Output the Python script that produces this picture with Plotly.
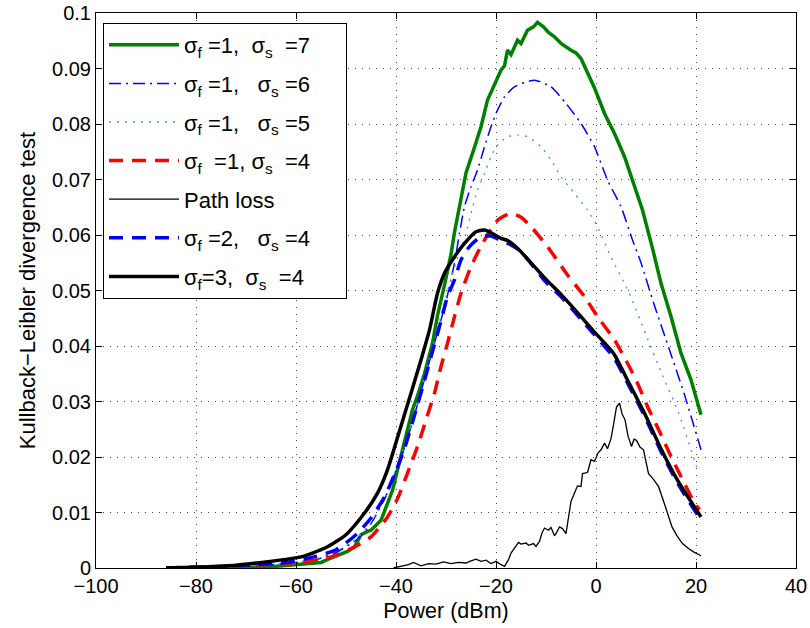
import plotly.graph_objects as go

# ---- data ----
x_s7 = [-86, -70, -64, -60, -57, -55, -53, -51, -49.7, -48.3, -47, -45.7, -45, -43, -41.7, -40.7, -39.7,
        -38.7, -37.7, -36.7, -35.7, -34.3, -32.7, -31.7, -30.3, -29, -28.3, -27.7, -27, -26, -24.3, -23,
        -21.7, -20.3, -19, -18.3, -17.7, -17, -15.7, -15, -13.7, -12.5, -11.7, -10.5, -9.5, -8.3, -7,
        -5, -4, -3, -1.5, -0.3, 1.7, 3.7, 5.7, 7.7, 9.3, 11.3, 13, 15, 17, 19, 20, 21]
y_s7 = [0, 0, 0.0003, 0.0006, 0.0008, 0.001, 0.0018, 0.0026, 0.003, 0.0038, 0.006, 0.0066, 0.0068,
        0.0086, 0.0115, 0.014, 0.0177, 0.0215, 0.0252, 0.0285, 0.031, 0.035, 0.0405, 0.0455, 0.051,
        0.0565, 0.0605, 0.0635, 0.0665, 0.0712, 0.0758, 0.0795, 0.0843, 0.0873, 0.0897, 0.0905, 0.0933,
        0.0925, 0.0951, 0.0945, 0.0969, 0.0975, 0.0983, 0.0975, 0.0965, 0.0957, 0.0945, 0.0933,
        0.0928, 0.0918, 0.089, 0.0865, 0.0819, 0.0783, 0.0741, 0.0687, 0.0645, 0.0576, 0.0513,
        0.0453, 0.0387, 0.0339, 0.0309, 0.0276]

x_s6 = [-86, -70, -62, -56, -52, -48, -45, -42, -40, -38, -36, -34, -32, -30, -28.3, -27.3, -26.3, -25,
        -23.7, -22.3, -21, -20, -18.3, -16.3, -12.3, -9, -6, -3, -0.3, 2.3, 5, 7.3, 9, 11.5, 14.7,
        17.7, 21]
y_s6 = [0, 0.0003, 0.0008, 0.0015, 0.0028, 0.005, 0.008, 0.013, 0.0175, 0.0225, 0.0285, 0.035,
        0.0415, 0.048, 0.055, 0.0603, 0.0651, 0.0687, 0.0717, 0.0759, 0.0795, 0.0819, 0.0849,
        0.0867, 0.0879, 0.0867, 0.0837, 0.0801, 0.0759, 0.0699, 0.0651, 0.0591, 0.055, 0.0478,
        0.0393, 0.0312, 0.0213]

x_s5 = [-86, -70, -62, -56, -52, -48, -45, -42, -40, -38, -36, -34, -32, -30, -28, -26, -25, -23.7,
        -22.3, -21, -20, -17.7, -15.5, -13.7, -11, -9, -7, -4.3, -1.7, 0.3, 3, 6.5, 10, 13.3,
        16.5, 20.5]
y_s5 = [0, 0.0003, 0.0008, 0.0016, 0.003, 0.0052, 0.0082, 0.0132, 0.0178, 0.0228, 0.0285, 0.0355,
        0.042, 0.049, 0.055, 0.0603, 0.0639, 0.0681, 0.0711, 0.0741, 0.0759, 0.0777, 0.078,
        0.0777, 0.0759, 0.0735, 0.0705, 0.0675, 0.0645, 0.0615, 0.056, 0.0498, 0.042, 0.0347,
        0.028, 0.0172]

x_f1s4 = [-86, -69, -59, -54.3, -51.7, -48.3, -45, -41.7, -39.7, -37.7, -35.7, -34, -32.3, -31,
          -29.7, -28.3, -27, -25, -23, -21, -19.5, -17, -15, -13, -9.7, -5.7, -2.3, 0.3, 3.7, 6.3,
          8.3, 10.3, 12.7, 15, 17, 19.7, 20.7]
y_f1s4 = [0, 0.0004, 0.0011, 0.0017, 0.0024, 0.0038, 0.0056, 0.0092, 0.0125, 0.0171, 0.0219,
          0.0267, 0.0315, 0.0363, 0.0405, 0.0453, 0.0495, 0.0543, 0.058, 0.061, 0.0628, 0.0639,
          0.0632, 0.0615, 0.0579, 0.0528, 0.0489, 0.0453, 0.0411, 0.0369, 0.0333, 0.0291, 0.0246,
          0.0201, 0.0165, 0.0117, 0.0105]

x_path = [-40.5, -39, -37.5, -36.5, -35, -33.5, -32, -30.5, -29, -27.5, -26, -25, -24, -23, -22,
          -21, -20, -19, -18.3, -17.5, -17, -16.3, -15.5, -15, -14, -13.5, -12.5, -12, -11.3,
          -10.8, -10.3, -9.5, -9, -8.3, -8, -7.3, -6.7, -6, -5.5, -5, -4.3, -3.7, -3, -2.7,
          -1.7, -1, -0.3, 0.4, 1, 1.7, 2.3, 3, 3.5, 4.1, 4.7, 5.2, 5.8, 6.4, 7.1, 7.6, 8.1,
          8.8, 9.5, 10.5, 11.3, 12.5, 13.9, 15.2, 16.2, 17.3, 18.5, 19.5, 21]
y_path = [0, 0.0003, 0.0006, 0.001, 0.0004, 0.0008, 0.0007, 0.0011, 0.0008, 0.001, 0.0009, 0.0013,
          0.0016, 0.0012, 0.0014, 0.0008, 0.0012, 0.0006, 0.0003, 0.0015, 0.0027, 0.0036, 0.0046,
          0.0043, 0.0045, 0.0041, 0.0044, 0.0039, 0.0048, 0.0063, 0.0072, 0.0068, 0.0073, 0.0058,
          0.0062, 0.0074, 0.0071, 0.0062, 0.009, 0.012, 0.0135, 0.0148, 0.0147, 0.017, 0.0172,
          0.0195, 0.0192, 0.0207, 0.0213, 0.0225, 0.0215, 0.0233, 0.0258, 0.029, 0.0297, 0.0278,
          0.0267, 0.0238, 0.0219, 0.0232, 0.023, 0.0218, 0.0213, 0.017, 0.0162, 0.0147, 0.011,
          0.0074, 0.0058, 0.0044, 0.0035, 0.0029, 0.0022]

x_f2s4 = [-86, -72, -62, -56, -52, -48, -45, -42.3, -40, -38.3, -36.3, -34.3, -32.7, -31, -29.7,
          -28.3, -27, -25.3, -23, -21, -19, -17, -15, -10, -7, -3, -0.3, 3.5, 6.5, 9.8, 13, 16.5,
          20.5]
y_f2s4 = [0, 0.0004, 0.001, 0.0021, 0.0033, 0.006, 0.009, 0.0128, 0.0175, 0.0215, 0.0275, 0.0338,
          0.039, 0.0445, 0.0489, 0.0519, 0.0555, 0.0579, 0.0597, 0.0598, 0.059, 0.0582, 0.057,
          0.0515, 0.0489, 0.0448, 0.042, 0.038, 0.033, 0.0272, 0.021, 0.015, 0.0093]

x_f3s4 = [-86, -79, -72, -66, -59, -54, -50, -46.3, -43.7, -41.7, -39.7, -37, -35, -33.3, -31.7,
          -30.3, -28.3, -26.3, -24, -22.3, -21, -19, -17.7, -15.7, -10, -7, -3, -0.3, 3.5, 6.5,
          9.8, 13, 16.5, 21]
y_f3s4 = [0, 0.0002, 0.0005, 0.0011, 0.002, 0.0037, 0.006, 0.0099, 0.0135, 0.0177, 0.0235,
          0.0315, 0.0375, 0.0429, 0.0495, 0.0531, 0.0561, 0.0585, 0.0606, 0.0609, 0.0604, 0.0594,
          0.059, 0.0576, 0.052, 0.0493, 0.0453, 0.0425, 0.0387, 0.0335, 0.0277, 0.0215, 0.0155,
          0.0092]

NB = "\u00a0"
names = [
    f"σ<sub>f</sub>{NB}=1,{NB}{NB}σ<sub>s</sub>{NB}{NB}=7" + NB * 5,
    f"σ<sub>f</sub>{NB}=1,{NB}{NB}{NB}σ<sub>s</sub>{NB}=6",
    f"σ<sub>f</sub>{NB}=1,{NB}{NB}{NB}σ<sub>s</sub>{NB}=5",
    f"σ<sub>f</sub>{NB}{NB}=1,{NB}σ<sub>s</sub>{NB}{NB}=4",
    "Path loss",
    f"σ<sub>f</sub>{NB}=2,{NB}{NB}{NB}σ<sub>s</sub>{NB}=4",
    f"σ<sub>f</sub>=3,{NB}{NB}σ<sub>s</sub>{NB}{NB}=4",
]

fig = go.Figure()
specs = [
    (x_s7, y_s7, dict(color="rgb(0,128,0)", width=3.5), "linear"),
    (x_s6, y_s6, dict(color="rgb(0,0,255)", width=1.5, dash="12px,5px,2px,5px"), "spline"),
    (x_s5, y_s5, dict(color="rgb(60,160,225)", width=1.4, dash="2px,6px"), "spline"),
    (x_f1s4, y_f1s4, dict(color="rgb(255,0,0)", width=3.5, dash="14px,9px"), "spline"),
    (x_path, y_path, dict(color="black", width=1.3), "linear"),
    (x_f2s4, y_f2s4, dict(color="rgb(0,0,255)", width=3.5, dash="14px,9px"), "spline"),
    (x_f3s4, y_f3s4, dict(color="black", width=3.5), "spline"),
]
for i, ((xx, yy, ln, shp), nm) in enumerate(zip(specs, names)):
    ln = dict(ln)
    ln["shape"] = shp
    if shp == "spline":
        ln["smoothing"] = 0.6
    fig.add_trace(go.Scatter(x=xx, y=yy, mode="lines", line=ln, name=nm,
                             legendgroup=f"g{i}"))

FONT = "Liberation Sans, Arial, Helvetica, sans-serif"
axis_common = dict(
    showline=True, linecolor="black", linewidth=1, mirror="allticks",
    ticks="inside", ticklen=6, tickcolor="black", tickwidth=1,
    showgrid=True, gridcolor="rgb(70,70,70)", griddash="1px,6px", gridwidth=1,
    zeroline=False, automargin=False, ticklabeloverflow="allow",
    tickfont=dict(size=20, color="black", family=FONT),
)
fig.update_layout(
    width=810, height=628,
    margin=dict(l=96, r=14, t=13, b=60),
    paper_bgcolor="white", plot_bgcolor="white",
    font=dict(family=FONT, color="black", size=20),
    xaxis=dict(range=[-100, 40], dtick=20, tick0=0,
               title=dict(text="Power (dBm)", font=dict(size=21.5), standoff=6), **axis_common),
    yaxis=dict(range=[0, 0.1], dtick=0.01, tick0=0,
               title=dict(text="Kullback\u2212Leibler divergence test", font=dict(size=22), standoff=10),
               **axis_common),
    legend=dict(x=0.01, y=0.982, xanchor="left", yanchor="top",
                bgcolor="white", bordercolor="black", borderwidth=1,
                font=dict(size=22, family=FONT), tracegroupgap=7, itemwidth=70),
    showlegend=True,
)
fig.write_html("out.html", config={"displayModeBar": False},
               post_script="document.body.style.margin='0px';")
